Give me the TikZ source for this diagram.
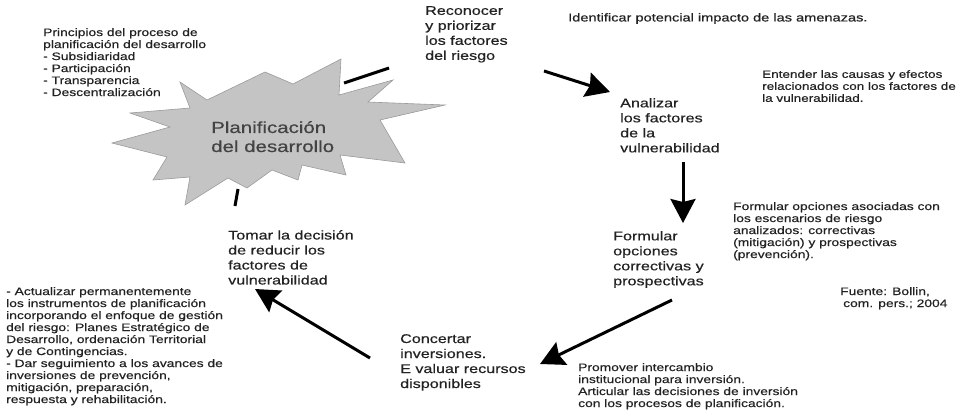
\documentclass[tikz,border=0pt]{standalone}
\usepackage{fontspec}
\setmainfont{Liberation Sans}[FakeStretch=1.28,RawFeature={embolden=0.5}]
\usetikzlibrary{arrows.meta}
\definecolor{txt}{HTML}{222222}
\definecolor{starfill}{HTML}{C4C4C4}
\definecolor{starline}{HTML}{9A9A9A}
\begin{document}
\begin{tikzpicture}[x=1pt,y=-1pt,
  small/.style={anchor=north west,inner sep=0pt,align=left,font=\fontsize{10.8}{12}\selectfont,text=txt},
  big/.style={anchor=north west,inner sep=0pt,align=left,font=\fontsize{12.6}{15}\selectfont,text=txt},
  title/.style={anchor=north west,inner sep=0pt,align=left,font=\fontsize{16}{19}\selectfont,text=txt!85},
  flow/.style={line width=3pt,-{Stealth[length=24pt,width=25pt,inset=3pt]}},
  barline/.style={line width=3pt,line cap=butt}]
\useasboundingbox (0,0) rectangle (961,410);
% star
\draw[fill=starfill,draw=starline,line width=0.6pt]
 (180,82) -- (207,100) -- (265,72) -- (293,84) -- (341,59) -- (339,95)
 -- (393,80) -- (368,102) -- (445,105) -- (380,120) -- (405,163)
 -- (340,155) -- (346,175) -- (302,165) -- (298,180) -- (272,170)
 -- (247,188) -- (228,178) -- (185,205) -- (190,177) -- (153,180)
 -- (167,157) -- (112,143) -- (170,127) -- (130,113) -- (190,108) -- cycle;
\node[title] (plan) at (211,121) {Planificación\\del desarrollo};
% bars
\coordinate (b1s) at (344,83); \coordinate (b1e) at (389,68);
\draw[barline] (b1s) -- (b1e);
\coordinate (b2s) at (238,189); \coordinate (b2e) at (235,206);
\draw[barline] (b2s) -- (b2e);
% texts
\node[small] (princ) at (43,28) {Principios del proceso de\\planificación del desarrollo\\- Subsidiaridad\\- Participación\\- Transparencia\\- Descentralización};
\node[big] (recon) at (425,6) {Reconocer\\y priorizar\\los factores\\del riesgo};
\node[small,font=\fontsize{11.4}{12}\selectfont] (ident) at (568,13) {Identificar potencial impacto de las amenazas.};
\node[small,font=\fontsize{10.55}{12}\selectfont] (enten) at (762,70) {Entender las causas y efectos\\relacionados con los factores de\\la vulnerabilidad.};
\node[big] (anal) at (620,98) {Analizar\\los factores\\de la\\vulnerabilidad};
\node[small] (formtxt) at (733,202) {Formular opciones asociadas con\\los escenarios de riesgo\\analizados: correctivas\\(mitigación) y prospectivas\\(prevención).};
\node[big] (form) at (613,231) {Formular\\opciones\\correctivas y\\prospectivas};
\node[small] (fuente) at (840,287) {Fuente: Bollin,\\\hspace{3pt}com. pers.; 2004};
\node[small] (prom) at (578,363) {Promover intercambio\\institucional para inversión.\\Articular las decisiones de inversión\\con los procesos de planificación.};
\node[big] (conc) at (400,334) {Concertar\\inversiones.\\E valuar recursos\\disponibles};
\node[big] (tomar) at (228,230) {Tomar la decisión\\de reducir los\\factores de\\vulnerabilidad};
\node[small] (actual) at (6,287) {- Actualizar permanentemente\\los instrumentos de planificación\\incorporando el enfoque de gestión\\del riesgo: Planes Estratégico de\\Desarrollo, ordenación Territorial\\y de Contingencias.\\- Dar seguimiento a los avances de\\inversiones de prevención,\\mitigación, preparación,\\respuesta y rehabilitación.};
% arrows
\coordinate (a1s) at (544,71); \coordinate (a1e) at (610,92);
\draw[flow] (a1s) -- (a1e);
\coordinate (a2s) at (683,162); \coordinate (a2e) at (683,223);
\draw[flow] (a2s) -- (a2e);
\coordinate (a3s) at (672,300); \coordinate (a3e) at (540,364);
\draw[flow] (a3s) -- (a3e);
\coordinate (a4s) at (370,358); \coordinate (a4e) at (255,289);
\draw[flow] (a4s) -- (a4e);
\end{tikzpicture}
\end{document}
